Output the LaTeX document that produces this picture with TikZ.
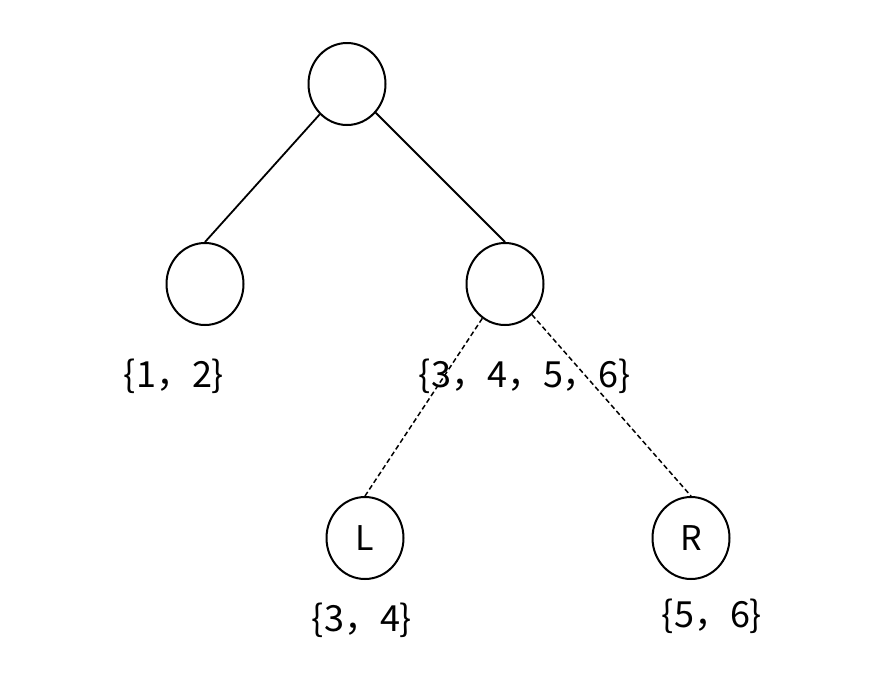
\documentclass[tikz,border=0pt]{standalone}
\usepackage{fontspec}
\setmainfont{Noto Sans CJK SC}
\tikzset{
  treenode/.style={draw=black, line width=2pt, ellipse, minimum width=77pt, minimum height=82pt, inner sep=0pt, font=\fontsize{34}{34}\selectfont},
  setlabel/.style={inner sep=0pt, font=\fontsize{36}{36}\selectfont},
  solidedge/.style={line width=1.8pt},
  dashededge/.style={line width=1.5pt, dashed, dash pattern=on 5pt off 3pt}
}
\usetikzlibrary{shapes.geometric}
\begin{document}
\begin{tikzpicture}[x=1pt,y=-1pt]
\useasboundingbox (0,0) rectangle (892,686);
\node[treenode] (root) at (347,84) {};
\node[treenode] (left) at (205,284) {};
\node[treenode] (right) at (505,284) {};
\node[treenode] (L) at (365,538) {L};
\node[treenode] (R) at (691,538) {R};
\node[setlabel] (s12) at (174,376) {\{1，2\}};
\node[setlabel] (s3456) at (525,376) {\{3，4，5，6\}};
\node[setlabel] (s34) at (362,620) {\{3，4\}};
\node[setlabel] (s56) at (712,616) {\{5，6\}};
\draw[solidedge] (root) -- (left.north);
\draw[solidedge] (root) -- (right.north);
\draw[dashededge] (right) -- (L.north);
\draw[dashededge] (right) -- (R.north);
\end{tikzpicture}
\end{document}
